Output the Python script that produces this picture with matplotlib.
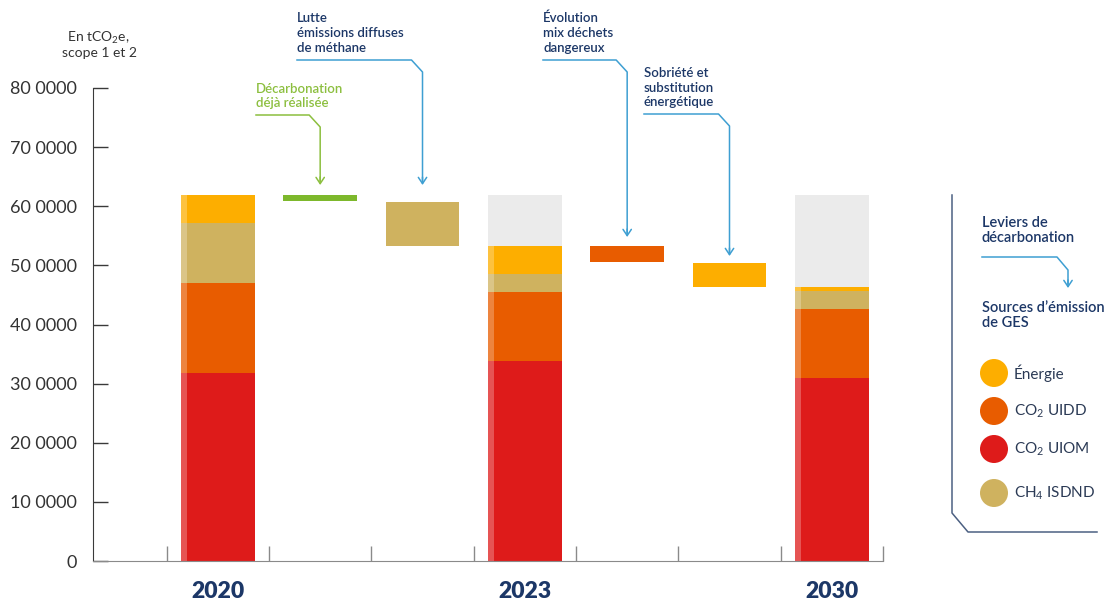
import matplotlib
matplotlib.use("Agg")
import matplotlib.pyplot as plt
from matplotlib.patches import Circle
from matplotlib.lines import Line2D
from matplotlib.transforms import Affine2D

plt.rcParams['font.family'] = ['Lato', 'DejaVu Sans']
plt.rcParams['mathtext.fontset'] = 'custom'
plt.rcParams['mathtext.rm'] = 'Lato'
plt.rcParams['mathtext.it'] = 'Lato:italic'
plt.rcParams['mathtext.bf'] = 'Lato:bold'

# ---------------- data ----------------
years = ["2020", "2023", "2030"]
year_pos = [0, 3, 6]
uiom = [31800, 33800, 31000]      # CO2 UIOM
uidd = [15200, 11700, 11600]      # CO2 UIDD
isdnd = [10200, 3000, 3100]       # CH4 ISDND
energie = [4700, 4800, 700]       # Énergie
reference_total = 61900

levers = ["Décarbonation\ndéjà réalisée",
          "Lutte\némissions diffuses\nde méthane",
          "Évolution\nmix déchets\ndangereux",
          "Sobriété et\nsubstitution\nénergétique"]
lever_pos = [1, 2, 4, 5]
lever_high = [61900, 60700, 53300, 50400]
lever_low = [60900, 53300, 50600, 46400]

yticks = [0, 10000, 20000, 30000, 40000, 50000, 60000, 70000, 80000]
ytick_labels = ["0", "10 0000", "20 0000", "30 0000", "40 0000",
                "50 0000", "60 0000", "70 0000", "80 0000"]

legend_labels = ["Énergie", "CO$_2$ UIDD", "CO$_2$ UIOM", "CH$_4$ ISDND"]

# ---------------- styles ----------------
C_ENER = "#FDAE00"
C_UIDD = "#E85C00"
C_UIOM = "#DE1B1A"
C_ISDND = "#CFB25F"
C_GREEN = "#7DB82C"
C_GRAY = "#EBEBEB"
NAVY = "#1C3767"
BLUE = "#3E9FD2"
GREEN_TXT = "#8CBF3F"
TXT = "#333333"
legend_colors = [C_ENER, C_UIDD, C_UIOM, C_ISDND]
lever_colors = [C_GREEN, C_ISDND, C_UIDD, C_ENER]

W, H = 1105, 601
AX_L, AX_R, AX_T, AX_B = 93, 883, 88, 561
XMIN, XMAX = -1.22, 6.5
YMAX = 80000

fig = plt.figure(figsize=(W / 100, H / 100), dpi=100)
ax = fig.add_axes([AX_L / W, 1 - AX_B / H, (AX_R - AX_L) / W, (AX_B - AX_T) / H])
pix = Affine2D().scale(1 / W, -1 / H).translate(0, 1) + fig.transFigure


def x2px(x):
    return AX_L + (x - XMIN) / (XMAX - XMIN) * (AX_R - AX_L)


BW = 0.72
# stacked year bars
totals = [a + b + c + d for a, b, c, d in zip(uiom, uidd, isdnd, energie)]
gray_pos = [p for p, t in zip(year_pos, totals) if t < reference_total]
gray_h = [reference_total - t for t in totals if t < reference_total]
gray_b = [t for t in totals if t < reference_total]
ax.bar(gray_pos, gray_h, bottom=gray_b, width=BW, color=C_GRAY, linewidth=0)

bottom = [0, 0, 0]
for vals, col in [(uiom, C_UIOM), (uidd, C_UIDD), (isdnd, C_ISDND), (energie, C_ENER)]:
    ax.bar(year_pos, vals, bottom=bottom, width=BW, color=col, linewidth=0)
    bottom = [b + v for b, v in zip(bottom, vals)]

# lighter strip on left edge
SW = 0.055
ax.bar([p - BW / 2 + SW / 2 for p in year_pos], totals, width=SW,
       color="white", alpha=0.25, linewidth=0)

# lever bars (waterfall)
ax.bar(lever_pos, [h - l for h, l in zip(lever_high, lever_low)], bottom=lever_low,
       width=BW, color=lever_colors, linewidth=0)

ax.set_xlim(XMIN, XMAX)
ax.set_ylim(0, YMAX)
for s in ["top", "right"]:
    ax.spines[s].set_visible(False)
ax.spines["left"].set_color("#3a3a3a")
ax.spines["bottom"].set_color("#8a8a8a")
ax.set_yticks(yticks)
ax.set_yticklabels(ytick_labels, fontsize=13, fontweight="normal", color=TXT)
ax.tick_params(axis="y", direction="in", length=11, width=1, color="#3a3a3a", pad=11.5)
ax.set_xticks([i - 0.5 for i in range(8)])
ax.set_xticklabels([])
ax.tick_params(axis="x", which="major", direction="in", length=11, width=1, color="#8a8a8a")
ax.set_xticks(year_pos, minor=True)
ax.set_xticklabels(years, minor=True, fontsize=16.5, fontweight="heavy", color=NAVY)
ax.tick_params(axis="x", which="minor", length=0, pad=14.5)

# unit label
fig.text(98 / W, 1 - 42 / H, "En tCO$_2$e,", ha="center", va="baseline", fontsize=10, color=TXT)
fig.text(100 / W, 1 - 57 / H, "scope 1 et 2", ha="center", va="baseline", fontsize=10, color=TXT)


def multiline(x, baselines, text, color, size=9.5, weight="semibold"):
    for yb, line in zip(baselines, text.split("\n")):
        fig.text(x / W, 1 - yb / H, line, ha="left", va="baseline",
                 fontsize=size, fontweight=weight, color=color)


def leader(x0, x1, xv, yline, ydiag, ytip, color):
    fig.add_artist(Line2D([x0, x1, xv, xv], [yline, yline, ydiag, ytip - 4],
                          transform=pix, color=color, lw=1.1))
    ax.annotate("", xy=(xv, ytip), xytext=(xv, ytip - 8), xycoords=pix, textcoords=pix,
                arrowprops=dict(arrowstyle="->,head_length=0.45,head_width=0.3",
                                color=color, lw=1.1, shrinkA=0, shrinkB=0),
                annotation_clip=False)


# annotations for levers
ann_x = [256, 297, 543, 644]
ann_base = [[93, 107], [22, 37, 52], [22, 37, 52], [77, 92, 106]]
ann_line_y = [115, 60, 60, 114]
ann_tip_y = [185, 185, 237, 256]
ann_colors = [GREEN_TXT, BLUE, BLUE, BLUE]
txt_colors = [GREEN_TXT, NAVY, NAVY, NAVY]
for i in range(4):
    xv = x2px(lever_pos[i])
    multiline(ann_x[i], ann_base[i], levers[i], txt_colors[i])
    leader(ann_x[i], xv - 11, xv, ann_line_y[i], ann_line_y[i] + 12, ann_tip_y[i], ann_colors[i])

# legend block
fig.add_artist(Line2D([952, 952, 968, 1097], [195, 513, 532, 532], transform=pix,
                      color="#4C6082", lw=1.1))
multiline(982, [227, 242], "Leviers de\ndécarbonation", NAVY, size=10.5)
leader(982, 1057, 1068, 257, 270, 288, BLUE)
multiline(982, [312, 327], "Sources d\u2019émission\nde GES", NAVY, size=10.5)
for i, (lab, col) in enumerate(zip(legend_labels, legend_colors)):
    yc = [373, 411, 449, 493][i]
    fig.add_artist(Circle((994, yc), 14, transform=pix, color=col, linewidth=0))
    fig.text(1014 / W, 1 - yc / H, lab, ha="left", va="center", fontsize=11, color="#2B3A55")

fig.savefig("out.png", dpi=100)
